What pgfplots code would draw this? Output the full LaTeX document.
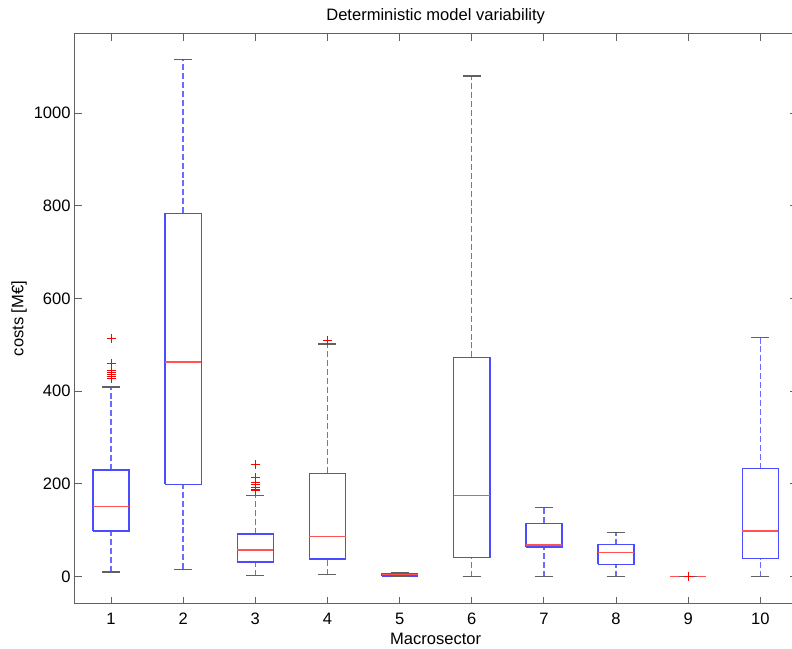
\documentclass[border=0pt]{standalone}
\usepackage{fontspec}
\setmainfont{Liberation Sans}
\usepackage{pgfplots}
\pgfplotsset{compat=1.18}

\definecolor{boxblue}{rgb}{0.30,0.30,1.00}
\definecolor{whiskblue}{rgb}{0.42,0.42,1.00}
\definecolor{medred}{rgb}{1.00,0.32,0.32}
\definecolor{axgray}{rgb}{0.38,0.38,0.38}

\begin{document}
\fontsize{12.4}{15}\selectfont
\begin{tikzpicture}
\begin{axis}[
  name=ax,
  scale only axis,
  width=541pt, height=427pt,
  xmin=0.5, xmax=10.5,
  ymin=-57.5, ymax=1171,
  xtick={1,...,10},
  ytick={0,200,400,600,800,1000},
  tick align=inside,
  major tick length=5pt,
  axis line style={axgray, line width=0.75pt},
  tick style={axgray, line width=0.75pt},
  /pgf/number format/assume math mode=true,
  /pgf/number format/1000 sep={},
  scaled y ticks=false,
  yticklabel style={xshift=1pt},
  xticklabel style={yshift=-3pt},
  title={Deterministic model variability},
  title style={at={(axis description cs:0.5,1)}, anchor=center, yshift=7pt},
  xlabel={Macrosector},
  every axis x label/.style={at={(axis description cs:0.5,0)}, anchor=center, yshift=-26.5pt},
  ylabel={costs [M€]},
  every axis y label/.style={at={([xshift=-42pt]axis description cs:0,0.5)}, anchor=center, rotate=90},
  unbounded coords=jump,
  clip=false,
]
% whiskers: lower whisker -> Q1 and Q3 -> upper whisker, per sector
\addplot[whiskblue, line width=1.1pt, dash pattern=on 4.5pt off 2.2pt] coordinates {
  (1,10) (1,98.6) (1,nan) (1,230) (1,409) (1,nan)
  (2,16) (2,199) (2,nan) (2,784) (2,1115) (2,nan)
  (3,2) (3,31.7) (3,nan) (3,91.5) (3,175) (3,nan)
  (4,4) (4,38) (4,nan) (4,223) (4,502) (4,nan)
  (5,0) (5,1) (5,nan) (5,7) (5,8.6) (5,nan)
  (6,0) (6,41) (6,nan) (6,473) (6,1080) (6,nan)
  (7,0) (7,64) (7,nan) (7,115) (7,150) (7,nan)
  (8,0) (8,26.7) (8,nan) (8,69) (8,96) (8,nan)
  (10,0) (10,39) (10,nan) (10,233) (10,516.5)
};
% boxes Q1..Q3 (width 0.5)
\addplot[boxblue, line width=1.1pt] coordinates {
  (0.75,98.6) (1.25,98.6) (1.25,230) (0.75,230) (0.75,98.6) (1,nan)
  (1.75,199) (2.25,199) (2.25,784) (1.75,784) (1.75,199) (2,nan)
  (2.75,31.7) (3.25,31.7) (3.25,91.5) (2.75,91.5) (2.75,31.7) (3,nan)
  (3.75,38) (4.25,38) (4.25,223) (3.75,223) (3.75,38) (4,nan)
  (4.75,1) (5.25,1) (5.25,7) (4.75,7) (4.75,1) (5,nan)
  (5.75,41) (6.25,41) (6.25,473) (5.75,473) (5.75,41) (6,nan)
  (6.75,64) (7.25,64) (7.25,115) (6.75,115) (6.75,64) (7,nan)
  (7.75,26.7) (8.25,26.7) (8.25,69) (7.75,69) (7.75,26.7) (8,nan)
  (8.75,0) (9.25,0) (9,nan)
  (9.75,39) (10.25,39) (10.25,233) (9.75,233) (9.75,39)
};
% medians
\addplot[medred, line width=1pt] coordinates {
  (0.75,151) (1.25,151) (1,nan)
  (1.75,463) (2.25,463) (2,nan)
  (2.75,57.6) (3.25,57.6) (3,nan)
  (3.75,87) (4.25,87) (4,nan)
  (4.75,4) (5.25,4) (5,nan)
  (5.75,175) (6.25,175) (6,nan)
  (6.75,68) (7.25,68) (7,nan)
  (7.75,52.6) (8.25,52.6) (8,nan)
  (8.75,0) (9.25,0) (9,nan)
  (9.75,98.6) (10.25,98.6)
};
% whisker caps
\addplot[axgray, line width=0.9pt] coordinates {
  (0.875,10) (1.125,10) (1,nan) (0.875,409) (1.125,409) (1,nan)
  (1.875,16) (2.125,16) (2,nan) (1.875,1115) (2.125,1115) (2,nan)
  (2.875,2) (3.125,2) (3,nan) (2.875,175) (3.125,175) (3,nan)
  (3.875,4) (4.125,4) (4,nan) (3.875,502) (4.125,502) (4,nan)
  (4.875,0) (5.125,0) (5,nan) (4.875,8.6) (5.125,8.6) (5,nan)
  (5.875,0) (6.125,0) (6,nan) (5.875,1080) (6.125,1080) (6,nan)
  (6.875,0) (7.125,0) (7,nan) (6.875,150) (7.125,150) (7,nan)
  (7.875,0) (8.125,0) (8,nan) (7.875,96) (8.125,96) (8,nan)
  (8.875,0) (9.125,0) (9,nan)
  (9.875,0) (10.125,0) (10,nan) (9.875,516.5) (10.125,516.5)
};
% outliers
\addplot[only marks, mark=+, mark size=3.4pt, mark options={red, solid, line width=0.7pt}] coordinates {
  (1,514) (1,460) (1,445) (1,440) (1,436) (1,432) (1,428)
  (3,242) (3,213) (3,204) (3,198) (3,193) (3,189) (3,185)
  (4,510)
  (9,1)
};
\end{axis}
\pgfresetboundingbox
\path[use as bounding box] ([xshift=-56.25pt, yshift=-34.3pt]ax.south west) rectangle ++(594pt,486.75pt);
\end{tikzpicture}
\end{document}
